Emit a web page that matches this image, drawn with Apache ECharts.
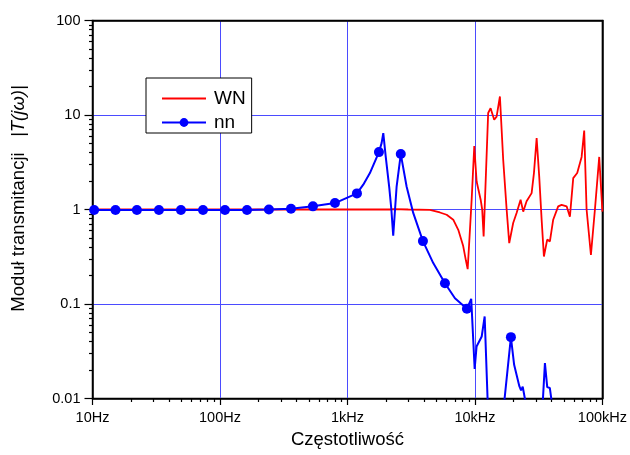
<!DOCTYPE html>
<html><head><meta charset="utf-8">
<script src="https://cdn.jsdelivr.net/npm/echarts@6/dist/echarts.min.js"></script>
<style>html,body{margin:0;padding:0;background:#fff}#c{width:630px;height:455px}</style>
</head><body><div id="c"></div>
<script>
const xTickValues = [10, 100, 1000, 10000, 100000];
const xTickLabels = ['10Hz', '100Hz', '1kHz', '10kHz', '100kHz'];
const yTickValues = [0.01, 0.1, 1, 10, 100];
const yTickLabels = ['0.01', '0.1', '1', '10', '100'];

const wnFreq = [10, 100, 1000, 2000, 2150, 2220, 2300, 3000, 4436, 5310, 6000, 6760, 7400, 8090, 8490, 8770, 9060, 9420, 9880, 10310, 11090, 11400, 11700, 12700, 13270, 14160, 14790, 15700, 16660, 17730, 18580, 19950, 21220, 22810, 23920, 25420, 27840, 29030, 30480, 31930, 33360, 34760, 36880, 38730, 41100, 44980, 47840, 52380, 55590, 59030, 63420, 68690, 71970, 75140, 81250, 87330, 94400, 100000];
const wnValue = [1.0, 1.0, 1.0, 1.0, 1.0, 0.96, 1.01, 1.0, 0.99, 0.93, 0.88, 0.78, 0.61, 0.41, 0.29, 0.234, 0.5, 1.26, 4.7, 1.98, 1.27, 1.0, 0.518, 10.5, 11.8, 8.9, 9.6, 15.7, 3.36, 1.0, 0.44, 0.72, 0.92, 1.27, 0.95, 1.22, 1.49, 2.43, 5.7, 2.24, 0.78, 0.318, 0.48, 0.46, 0.78, 1.08, 1.12, 1.08, 0.84, 2.15, 2.43, 3.6, 6.85, 1.0, 0.33, 1.0, 3.6, 0.95];

const nnMarkerFreq = [10.3, 15.15, 22.3, 33.2, 49.4, 73.6, 109.4, 162.9, 242, 360.6, 536, 798, 1187, 1766, 2620, 3908, 5818, 8650, 12870, 19150, 28500, 42400, 63100, 93900];
const nnMarkerValue = [0.99, 0.99, 0.99, 0.99, 0.99, 0.99, 0.99, 0.99, 1.0, 1.02, 1.08, 1.17, 1.48, 4.05, 3.86, 0.463, 0.166, 0.089, 0.004, 0.0446, 0.003, 0.003, 0.002, 0.002];

const nnLineFreq = [10, 1330, 1500, 1853, 1910, 1995, 2130, 2210, 2285, 2430, 2910, 3280, 4710, 6970, 9350, 9950, 10300, 11300, 11920, 16500, 16800, 20300, 22300, 23000, 23700, 25000, 32900, 35400, 36900, 38700, 39900, 100000];
const nnLineValue = [0.99, 1.83, 2.43, 5.04, 6.43, 3.64, 1.68, 1.0, 0.527, 1.75, 1.75, 0.92, 0.271, 0.115, 0.1135, 0.0205, 0.0355, 0.0453, 0.0738, 0.004, 0.008, 0.0227, 0.0135, 0.0122, 0.0133, 0.009, 0.004, 0.0237, 0.0132, 0.0129, 0.0095, 0.002];

const FONT = '"Liberation Sans", Arial, sans-serif';

function minorValues(lo, hi) {
  const out = [];
  for (let d = lo; d < hi * 0.999; d *= 10) {
    for (let k = 2; k <= 9; k++) out.push(+(k * d).toPrecision(6));
  }
  return out;
}
function labelFor(values, labels) {
  return function (v) {
    for (let i = 0; i < values.length; i++) {
      if (Math.abs(Math.log10(v) - Math.log10(values[i])) < 1e-6) return labels[i];
    }
    return '';
  };
}

const wnData = wnFreq.map((f, i) => [f, wnValue[i]]);
const nnItems = [];
nnMarkerFreq.forEach((f, i) => nnItems.push({ value: [f, nnMarkerValue[i]] }));
nnLineFreq.forEach((f, i) => nnItems.push({ value: [f, nnLineValue[i]], symbol: 'none' }));
nnItems.sort((a, b) => a.value[0] - b.value[0]);

const tickStyle = { color: '#000', width: 1.2 };
const chart = echarts.init(document.getElementById('c'), null, { renderer: 'canvas' });
chart.setOption({
  animation: false,
  backgroundColor: '#fff',
  grid: { left: 92.5, right: 27.5, top: 20.5, bottom: 56.5, show: true, borderColor: '#000', borderWidth: 1.5, backgroundColor: 'transparent' },
  legend: {
    orient: 'vertical', left: 146, top: 78,
    data: [{ name: 'WN', itemStyle: { opacity: 0 } }, { name: 'nn' }],
    itemWidth: 44, itemHeight: 11, itemGap: 5,
    textStyle: { fontSize: 19, color: '#000', fontFamily: FONT, padding: [0, 0, 0, 3] },
    borderColor: '#000', borderWidth: 1, borderRadius: 0,
    padding: [11, 6, 1, 15], backgroundColor: '#fff'
  },
  xAxis: [
    {
      type: 'log', logBase: 10, min: 10, max: 100000, position: 'bottom',
      axisLine: { show: true, lineStyle: { color: '#000', width: 1.5 } },
      axisTick: { show: true, inside: false, length: 6.5, lineStyle: tickStyle },
      axisLabel: { margin: 12, fontSize: 14.5, color: '#000', fontFamily: FONT, formatter: labelFor(xTickValues, xTickLabels) },
      splitLine: { show: true, showMinLine: false, showMaxLine: false, lineStyle: { color: '#4b4bff', width: 1 } },
      name: 'Częstotliwość', nameLocation: 'middle', nameGap: 31,
      nameTextStyle: { fontSize: 18.5, color: '#000', fontFamily: FONT }
    },
    {
      // minor ticks
      type: 'log', logBase: 10, min: 10, max: 100000, position: 'bottom',
      axisLine: { show: false },
      axisTick: { show: true, inside: false, length: 3.5, customValues: minorValues(10, 100000), lineStyle: tickStyle },
      axisLabel: { show: false }, splitLine: { show: false }
    },
    {
      // top frame
      type: 'log', logBase: 10, min: 10, max: 100000, position: 'top',
      axisLine: { show: true, lineStyle: { color: '#000', width: 1.5 } },
      axisTick: { show: false }, axisLabel: { show: false }, splitLine: { show: false }
    }
  ],
  yAxis: [
    {
      type: 'log', logBase: 10, min: 0.01, max: 100, position: 'left',
      axisLine: { show: true, lineStyle: { color: '#000', width: 1.5 } },
      axisTick: { show: true, inside: false, length: 8, lineStyle: tickStyle },
      axisLabel: { margin: 12, fontSize: 14.5, color: '#000', fontFamily: FONT, formatter: labelFor(yTickValues, yTickLabels) },
      splitLine: { show: true, showMinLine: false, showMaxLine: false, lineStyle: { color: '#4b4bff', width: 1 } },
      name: '{a|Moduł transmitancji}{b|   |T(jω)|}', nameLocation: 'middle', nameGap: 64,
      nameTextStyle: {
        fontSize: 18.5, color: '#000', fontFamily: FONT, padding: [0, 0, 0, 22],
        rich: {
          a: { fontSize: 18.5, color: '#000', fontFamily: FONT },
          b: { fontSize: 18.5, color: '#000', fontFamily: FONT, fontStyle: 'italic' }
        }
      }
    },
    {
      // minor ticks
      type: 'log', logBase: 10, min: 0.01, max: 100, position: 'left',
      axisLine: { show: false },
      axisTick: { show: true, inside: false, length: 3.5, customValues: minorValues(0.01, 100), lineStyle: tickStyle },
      axisLabel: { show: false }, splitLine: { show: false }
    },
    {
      // right frame
      type: 'log', logBase: 10, min: 0.01, max: 100, position: 'right',
      axisLine: { show: true, lineStyle: { color: '#000', width: 1.5 } },
      axisTick: { show: false }, axisLabel: { show: false }, splitLine: { show: false }
    }
  ],
  series: [
    {
      name: 'WN', type: 'line', xAxisIndex: 0, yAxisIndex: 0, data: wnData,
      symbol: 'none', color: '#ff0000', lineStyle: { color: '#ff0000', width: 1.8 }, z: 3
    },
    {
      name: 'nn', type: 'line', xAxisIndex: 0, yAxisIndex: 0, data: nnItems,
      symbol: 'circle', symbolSize: 10, showAllSymbol: true,
      color: '#0000ff', itemStyle: { color: '#0000ff' }, lineStyle: { color: '#0000ff', width: 2 }, z: 4
    }
  ]
});
</script>
</body></html>
